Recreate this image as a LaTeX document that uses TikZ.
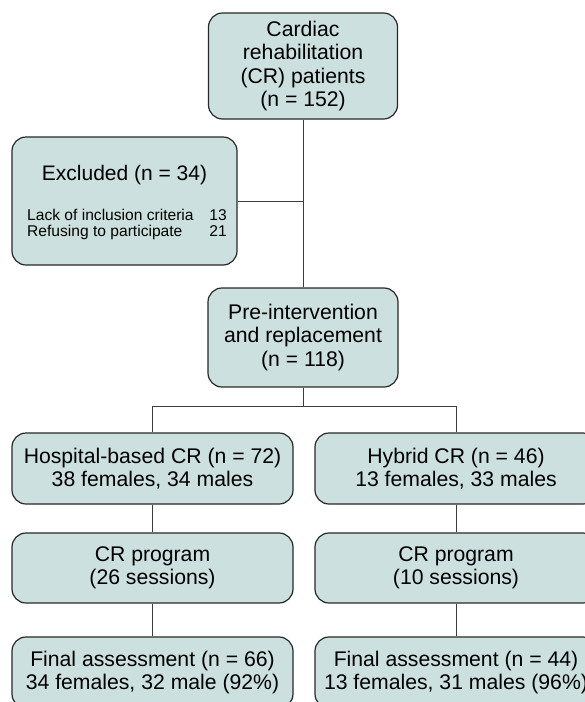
\documentclass[tikz,border=0pt]{standalone}
\usepackage{fontspec}
\setmainfont{Liberation Sans}
\definecolor{boxfill}{RGB}{204,224,224}
\definecolor{boxline}{RGB}{40,40,40}
\definecolor{connline}{RGB}{60,60,60}
\tikzset{
  flowbox/.style={draw=boxline, line width=1.2pt, fill=boxfill, rounded corners=14pt,
    align=center, inner sep=0pt, font=\fontsize{21.2}{23.5}\selectfont},
  conn/.style={draw=connline, line width=1pt},
  smalltxt/.style={inner sep=0pt, font=\fontsize{15.6}{15}\selectfont},
}
\begin{document}
\begin{tikzpicture}[x=1pt,y=1pt]
\useasboundingbox (0,0) rectangle (585,-702);
\clip (0,0) rectangle (585,-702);
\fill[white] (0,0) rectangle (585,-702);

\node[flowbox, minimum width=189pt, minimum height=106pt] (top) at (303,-66)
  {Cardiac\\rehabilitation\\(CR) patients\\(n = 152)};
\node[flowbox, minimum width=225pt, minimum height=128pt] (excl) at (124.5,-201) {};
\node[inner sep=0pt, anchor=base, font=\fontsize{21}{24}\selectfont] (exclt) at (124.5,-180) {Excluded (n = 34)};
\node[smalltxt, anchor=base west] (r1) at (27,-220.5) {Lack of inclusion criteria};
\node[smalltxt, anchor=base east] (n1) at (227,-220.5) {13};
\node[smalltxt, anchor=base west] (r2) at (27,-236) {Refusing to participate};
\node[smalltxt, anchor=base east] (n2) at (227,-236) {21};

\node[flowbox, minimum width=190pt, minimum height=99pt] (pre) at (303,-337.5)
  {Pre-intervention\\and replacement\\(n = 118)};

\node[flowbox, minimum width=281pt, minimum height=71pt] (hosp) at (152.5,-468.5)
  {Hospital-based CR (n = 72)\\38 females, 34 males};
\node[flowbox, minimum width=282pt, minimum height=71pt] (hyb) at (456,-468.5)
  {Hybrid CR (n = 46)\\13 females, 33 males};

\node[flowbox, minimum width=281pt, minimum height=70pt] (cr1) at (152.5,-568)
  {CR program\\(26 sessions)};
\node[flowbox, minimum width=282pt, minimum height=70pt] (cr2) at (456,-568)
  {CR program\\(10 sessions)};

\node[flowbox, minimum width=281pt, minimum height=71pt] (fin1) at (152.5,-672.5)
  {Final assessment (n = 66)\\34 females, 32 male (92\%)};
\node[flowbox, minimum width=282pt, minimum height=71pt] (fin2) at (456,-672.5)
  {Final assessment (n = 44)\\13 females, 31 males (96\%)};

\coordinate (br) at (303,-406);
\draw[conn] (top.south) -- (pre.north);
\draw[conn] (excl.east) -- (excl.east -| top.south);
\draw[conn] (pre.south) -- (br);
\draw[conn] (hosp.north) -- (hosp.north |- br) -- (hyb.north |- br) -- (hyb.north);
\draw[conn] (hosp.south) -- (cr1.north);
\draw[conn] (hyb.south) -- (cr2.north);
\draw[conn] (cr1.south) -- (fin1.north);
\draw[conn] (cr2.south) -- (fin2.north);
\end{tikzpicture}
\end{document}
